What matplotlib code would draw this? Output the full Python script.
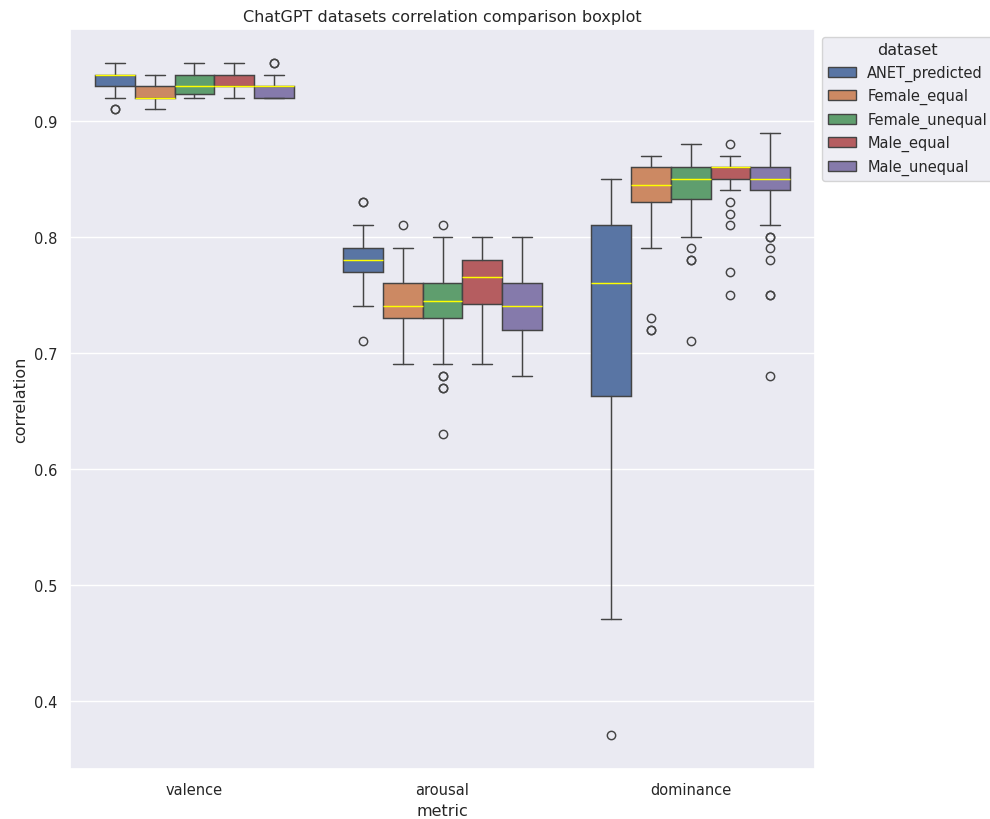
import matplotlib
matplotlib.use("Agg")
import matplotlib.pyplot as plt
import matplotlib.patches as mpatches
import seaborn as sns

metrics = ["valence", "arousal", "dominance"]
datasets = ["ANET_predicted", "Female_equal", "Female_unequal", "Male_equal", "Male_unequal"]

# box statistics, one row per metric, one column per dataset
medians = [[0.94, 0.92, 0.93, 0.93, 0.93],
           [0.78, 0.74, 0.745, 0.765, 0.74],
           [0.76, 0.845, 0.85, 0.86, 0.85]]
q1 = [[0.93, 0.92, 0.923, 0.93, 0.92],
      [0.77, 0.73, 0.73, 0.742, 0.72],
      [0.663, 0.83, 0.833, 0.85, 0.84]]
q3 = [[0.94, 0.93, 0.94, 0.94, 0.93],
      [0.79, 0.76, 0.76, 0.78, 0.76],
      [0.81, 0.86, 0.86, 0.86, 0.86]]
whislo = [[0.92, 0.91, 0.92, 0.92, 0.92],
          [0.74, 0.69, 0.69, 0.69, 0.68],
          [0.47, 0.79, 0.80, 0.84, 0.81]]
whishi = [[0.95, 0.94, 0.95, 0.95, 0.94],
          [0.81, 0.79, 0.80, 0.80, 0.80],
          [0.85, 0.87, 0.88, 0.87, 0.89]]
fliers = [[[0.91, 0.91], [], [], [], [0.95, 0.95]],
          [[0.83, 0.83, 0.71], [0.81], [0.81, 0.68, 0.68, 0.67, 0.67, 0.63], [], []],
          [[0.37], [0.73, 0.72, 0.72], [0.79, 0.78, 0.78, 0.71],
           [0.88, 0.83, 0.82, 0.81, 0.77, 0.75],
           [0.80, 0.80, 0.79, 0.78, 0.75, 0.75, 0.68]]]

sns.set_theme(style="darkgrid")
plt.rcParams.update({"axes.titlesize": 11.5, "axes.labelsize": 11.5,
                     "xtick.labelsize": 10.5, "ytick.labelsize": 10.5,
                     "legend.fontsize": 10.5, "legend.title_fontsize": 11.5})
colors = sns.color_palette("deep", len(datasets), desat=0.75)

fig, ax = plt.subplots(figsize=(9.9, 8.2), dpi=100)
fig.subplots_adjust(left=0.071, right=0.823, top=0.963, bottom=0.061)

width = 0.8 / len(datasets)
line_color = "#444444"
lw = 1.05
for i, m in enumerate(metrics):
    for j, d in enumerate(datasets):
        pos = i - 0.4 + width * (j + 0.5)
        stats = [dict(med=medians[i][j], q1=q1[i][j], q3=q3[i][j],
                      whislo=whislo[i][j], whishi=whishi[i][j],
                      fliers=fliers[i][j], label=d)]
        ax.bxp(stats, positions=[pos], widths=[width], patch_artist=True,
               manage_ticks=False,
               boxprops=dict(facecolor=colors[j], edgecolor=line_color, linewidth=lw),
               whiskerprops=dict(color=line_color, linewidth=lw),
               capprops=dict(color=line_color, linewidth=lw),
               medianprops=dict(color="yellow", linewidth=lw),
               flierprops=dict(marker="o", markerfacecolor="none",
                               markeredgecolor=line_color, markersize=6,
                               markeredgewidth=lw))

ax.set_xlim(-0.5, len(metrics) - 0.5)
ax.set_xticks(range(len(metrics)))
ax.set_xticklabels(metrics)
ax.xaxis.grid(False)
ax.set_ylim(0.341, 0.979)
ax.set_yticks([0.4, 0.5, 0.6, 0.7, 0.8, 0.9])
ax.set_xlabel("metric")
ax.set_ylabel("correlation")
ax.set_title("ChatGPT datasets correlation comparison boxplot")

handles = [mpatches.Patch(facecolor=c, edgecolor=line_color, label=d)
           for c, d in zip(colors, datasets)]
ax.legend(handles=handles, title="dataset", loc="upper left", bbox_to_anchor=(1, 1),
          handlelength=1.9)

fig.savefig("out.png", dpi=100)
